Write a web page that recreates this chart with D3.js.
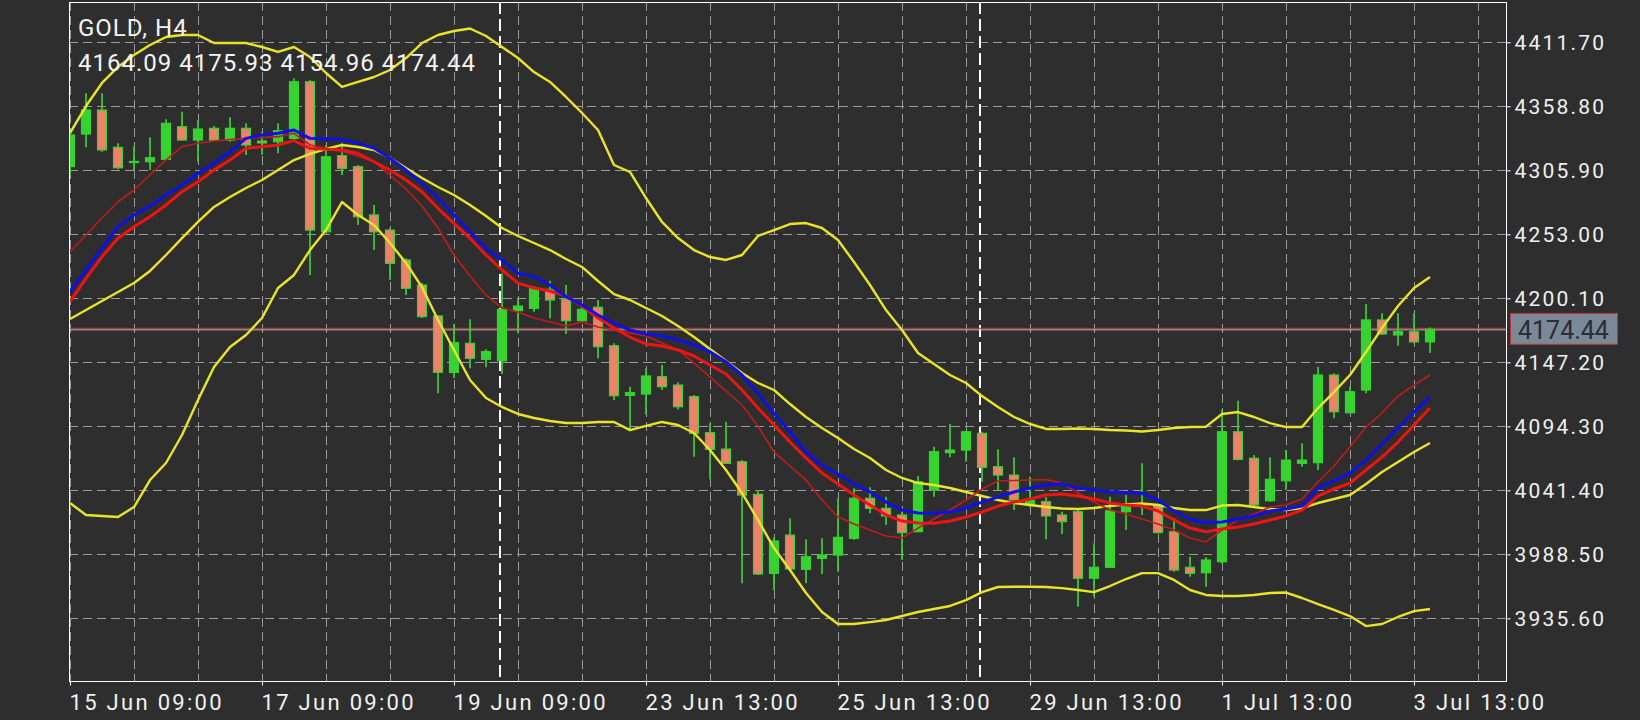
<!DOCTYPE html>
<html>
<head>
<meta charset="utf-8">
<script src="https://cdn.jsdelivr.net/npm/d3@7"></script>
<style>
  body { margin: 0; background: #2e2e2e; }
  svg { display: block; }
  text { font-family: Roboto, sans-serif; }
</style>
</head>
<body>
<div id="chart"></div>
<script>
// GOLD H4 candles, one value per bar, oldest first
const symbol = "GOLD, H4"
const opens = [4308.9, 4335.9, 4355.7, 4324.9, 4312.8, 4313.0, 4315.0, 4341.9, 4330.9, 4340.6,
  4330.9, 4340.6, 4330.1, 4329.5, 4332.3, 4379.1, 4255.1, 4318.0, 4308.9, 4269.0,
  4256.5, 4231.8, 4211.1, 4185.5, 4138.9, 4162.9, 4149.7, 4148.5, 4189.9, 4191.8,
  4207.5, 4199.3, 4181.6, 4192.7, 4160.9, 4119.9, 4121.0, 4135.3, 4128.4, 4118.8,
  4089.0, 4075.5, 4065.0, 4038.1, 3972.8, 4004.4, 3976.1, 3985.2, 3987.9, 4001.7,
  4034.8, 4026.5, 4021.0, 4007.2, 4041.6, 4072.5, 4074.7, 4088.5, 4060.9, 4054.0,
  4029.3, 4032.0, 4021.0, 4023.7, 3968.7, 3977.8, 4023.7, 4029.3, 4028.4, 4007.2,
  3977.8, 3973.3, 3982.4, 4089.8, 4067.9, 4032.8, 4049.3, 4063.7, 4064.2, 4136.7,
  4105.5, 4124.3, 4182.2, 4169.8, 4172.5, 4164.09]
const highs = [4340.9, 4369.5, 4369.5, 4328.2, 4325.4, 4333.2, 4348.1, 4354.3, 4347.5, 4342.8,
  4349.7, 4344.7, 4337.6, 4344.7, 4381.9, 4380.5, 4326.8, 4328.2, 4310.3, 4277.2,
  4258.0, 4233.2, 4213.0, 4186.3, 4178.9, 4182.7, 4157.9, 4220.8, 4199.3, 4210.3,
  4214.6, 4211.1, 4194.6, 4198.7, 4162.9, 4127.0, 4142.2, 4145.0, 4130.7, 4120.2,
  4096.8, 4098.1, 4066.4, 4041.6, 4002.5, 4018.3, 4000.9, 4001.7, 4034.8, 4043.1,
  4043.9, 4036.1, 4023.7, 4053.2, 4077.4, 4096.2, 4090.7, 4089.8, 4075.3, 4068.7,
  4052.6, 4035.6, 4023.7, 4025.1, 3997.6, 4036.1, 4037.5, 4063.7, 4030.6, 4018.3,
  3986.5, 3986.0, 4108.3, 4115.5, 4070.6, 4068.7, 4074.7, 4080.3, 4143.6, 4138.1,
  4127.0, 4195.4, 4187.7, 4187.7, 4187.7, 4175.93]
const lows = [4302.0, 4324.9, 4321.3, 4306.7, 4306.1, 4306.1, 4314.4, 4330.4, 4313.0, 4330.1,
  4329.5, 4318.5, 4318.5, 4320.0, 4330.9, 4219.4, 4254.9, 4302.0, 4260.7, 4240.0,
  4215.2, 4202.8, 4183.8, 4121.6, 4134.0, 4142.2, 4143.1, 4137.5, 4171.2, 4189.0,
  4183.6, 4170.6, 4180.5, 4150.5, 4116.0, 4091.2, 4104.2, 4124.3, 4108.3, 4069.2,
  4050.5, 4063.1, 3964.5, 3971.4, 3959.0, 3975.5, 3964.5, 3972.2, 3974.1, 4000.3,
  4022.4, 4012.7, 3983.8, 4006.9, 4036.1, 4068.7, 4065.0, 4048.5, 4041.1, 4025.1,
  4027.6, 4000.9, 4005.3, 3945.2, 3953.5, 3976.9, 4008.6, 4021.0, 4005.9, 3974.1,
  3970.0, 3961.7, 3981.0, 4066.0, 4028.4, 4032.0, 4041.6, 4060.9, 4058.2, 4100.9,
  4105.0, 4121.6, 4169.8, 4160.9, 4162.9, 4154.96]
const closes = [4335.1, 4355.7, 4322.7, 4308.0, 4313.2, 4316.3, 4344.7, 4330.9, 4340.0, 4330.9,
  4340.6, 4326.8, 4328.5, 4338.6, 4379.1, 4256.5, 4317.1, 4307.5, 4267.5, 4255.1,
  4229.0, 4208.4, 4184.9, 4138.9, 4163.4, 4150.5, 4156.0, 4191.0, 4193.7, 4208.4,
  4198.7, 4181.6, 4191.0, 4160.1, 4119.6, 4122.1, 4135.9, 4127.0, 4110.5, 4088.5,
  4075.3, 4063.7, 4037.5, 3972.2, 3999.5, 3976.4, 3986.5, 3987.9, 4002.5, 4034.8,
  4026.5, 4020.2, 4006.4, 4048.5, 4073.3, 4074.7, 4089.8, 4060.4, 4054.0, 4033.4,
  4032.8, 4020.2, 4015.5, 3968.7, 3977.8, 4024.5, 4029.3, 4030.1, 4006.4, 3975.5,
  3972.8, 3983.8, 4089.8, 4067.0, 4029.3, 4050.5, 4066.4, 4066.4, 4136.7, 4106.4,
  4122.9, 4182.2, 4170.6, 4172.5, 4164.1, 4174.44]

// moving averages
const maBlue = [4205.6, 4223.5, 4241.4, 4259.3, 4269.0, 4276.4, 4285.5, 4293.8, 4303.4, 4311.7,
  4321.3, 4332.3, 4335.1, 4336.5, 4339.2, 4332.3, 4331.8, 4331.5, 4328.2, 4324.1,
  4315.8, 4306.1, 4295.2, 4282.8, 4269.0, 4255.1, 4241.4, 4231.8, 4220.8, 4218.0,
  4211.1, 4201.4, 4194.6, 4186.3, 4179.4, 4173.9, 4170.6, 4168.9, 4165.6, 4161.5,
  4156.0, 4147.7, 4136.7, 4121.6, 4105.0, 4089.8, 4073.1, 4062.3, 4054.9, 4046.6,
  4040.2, 4031.7, 4025.1, 4022.6, 4022.4, 4023.5, 4026.8, 4031.7, 4035.9, 4040.0,
  4043.3, 4045.8, 4046.6, 4043.3, 4041.6, 4040.2, 4039.6, 4038.9, 4033.4, 4024.3,
  4017.7, 4014.6, 4015.2, 4017.7, 4020.2, 4024.3, 4025.9, 4028.4, 4043.3, 4049.1,
  4055.7, 4066.4, 4079.7, 4092.9, 4106.1, 4118.5]
const maRed = [4197.3, 4216.6, 4234.5, 4249.7, 4259.3, 4267.5, 4277.2, 4288.2, 4296.5, 4306.1,
  4314.4, 4324.1, 4325.4, 4326.8, 4330.4, 4324.1, 4323.3, 4322.7, 4320.0, 4313.0,
  4306.1, 4297.9, 4288.2, 4274.5, 4262.1, 4249.7, 4235.9, 4223.5, 4212.7, 4208.6,
  4206.1, 4202.0, 4193.7, 4183.8, 4175.5, 4168.1, 4162.3, 4160.7, 4157.4, 4152.4,
  4145.0, 4137.5, 4124.3, 4109.4, 4095.4, 4081.3, 4068.1, 4055.7, 4046.6, 4037.5,
  4029.3, 4021.0, 4016.0, 4014.4, 4014.1, 4016.0, 4019.3, 4023.5, 4028.4, 4031.7,
  4034.2, 4037.5, 4038.3, 4036.7, 4034.2, 4030.9, 4029.3, 4028.4, 4024.3, 4016.9,
  4010.2, 4007.2, 4009.4, 4011.1, 4013.5, 4016.9, 4020.2, 4025.1, 4036.7, 4042.5,
  4047.4, 4058.2, 4068.9, 4081.3, 4095.4, 4109.4]
const maFast = [4238.6, 4252.4, 4266.5, 4279.9, 4289.6, 4302.0, 4314.4, 4325.4, 4328.2, 4330.1,
  4331.4, 4332.3, 4333.0, 4333.7, 4336.5, 4326.8, 4324.1, 4321.4, 4317.7, 4313.0,
  4302.0, 4290.4, 4276.4, 4258.2, 4235.9, 4218.5, 4202.8, 4192.1, 4188.8, 4183.8,
  4180.5, 4177.2, 4180.5, 4176.4, 4173.9, 4171.4, 4168.9, 4163.2, 4157.4, 4146.6,
  4135.1, 4123.5, 4111.9, 4094.6, 4073.1, 4061.5, 4049.9, 4033.4, 4019.3, 4013.5,
  4008.6, 4003.6, 4002.0, 4010.2, 4017.7, 4025.1, 4033.4, 4042.5, 4049.1, 4049.5,
  4049.9, 4050.3, 4047.4, 4039.2, 4031.7, 4025.1, 4021.8, 4017.7, 4013.5, 4008.6,
  4002.0, 3998.7, 4008.6, 4016.9, 4021.8, 4027.6, 4029.3, 4034.2, 4048.3, 4061.5,
  4077.2, 4093.7, 4105.3, 4119.3, 4128.4, 4136.7]

// bollinger bands
const bbMid = [4183.0, 4190.4, 4197.9, 4205.3, 4212.7, 4222.7, 4235.9, 4249.9, 4263.2, 4275.6,
  4283.8, 4291.3, 4297.9, 4306.1, 4314.4, 4319.4, 4323.5, 4326.8, 4325.2, 4322.7,
  4316.1, 4307.8, 4299.5, 4292.1, 4285.5, 4277.2, 4268.1, 4258.2, 4251.6, 4245.8,
  4240.0, 4232.6, 4226.0, 4214.4, 4203.6, 4198.7, 4192.1, 4185.5, 4177.2, 4168.1,
  4158.2, 4148.3, 4138.4, 4130.1, 4124.3, 4112.7, 4102.0, 4092.9, 4084.6, 4075.5,
  4068.1, 4058.2, 4051.6, 4047.4, 4045.8, 4043.3, 4040.0, 4036.7, 4033.4, 4030.9,
  4029.3, 4027.6, 4026.4, 4025.9, 4026.8, 4028.4, 4029.7, 4030.5, 4029.3, 4026.8,
  4025.1, 4025.1, 4028.8, 4029.3, 4027.6, 4025.9, 4025.1, 4026.8, 4030.9, 4034.2,
  4037.5, 4046.6, 4056.5, 4064.8, 4073.1, 4080.5]
const bbUpper = [4336.7, 4359.0, 4378.1, 4391.3, 4401.2, 4409.5, 4416.1, 4417.7, 4417.7, 4411.1,
  4411.1, 4411.1, 4407.8, 4403.7, 4407.8, 4399.5, 4386.3, 4374.8, 4378.9, 4383.0,
  4388.8, 4398.7, 4411.1, 4417.7, 4421.0, 4423.1, 4416.9, 4407.8, 4398.7, 4387.1,
  4378.9, 4366.5, 4353.3, 4339.2, 4310.3, 4304.5, 4283.0, 4263.2, 4249.9, 4240.0,
  4234.2, 4231.8, 4235.9, 4251.6, 4256.5, 4261.5, 4262.3, 4258.2, 4248.3, 4230.1,
  4211.1, 4190.4, 4173.9, 4154.9, 4145.8, 4136.7, 4130.1, 4119.3, 4110.3, 4102.0,
  4096.2, 4092.1, 4092.1, 4092.5, 4092.1, 4091.2, 4090.8, 4090.0, 4091.2, 4092.9,
  4093.7, 4094.0, 4104.5, 4106.1, 4102.0, 4097.0, 4093.7, 4093.7, 4109.4, 4122.6,
  4136.7, 4155.7, 4175.5, 4193.7, 4208.6, 4217.7]
const bbLower = [4030.9, 4021.0, 4020.2, 4019.3, 4027.6, 4049.9, 4064.0, 4087.1, 4116.0, 4143.3,
  4159.8, 4169.8, 4183.8, 4208.6, 4219.4, 4240.0, 4256.5, 4279.7, 4269.0, 4260.7,
  4245.8, 4229.3, 4209.4, 4182.2, 4157.4, 4132.6, 4117.7, 4110.3, 4104.5, 4101.2,
  4098.7, 4097.0, 4097.0, 4097.9, 4097.9, 4091.2, 4094.6, 4097.9, 4095.4, 4088.8,
  4074.7, 4058.2, 4039.2, 4016.9, 3993.7, 3975.5, 3956.5, 3940.8, 3930.9, 3930.9,
  3932.5, 3934.2, 3937.5, 3940.8, 3943.3, 3945.8, 3950.7, 3957.3, 3961.5, 3961.7,
  3961.7, 3961.5, 3960.6, 3959.0, 3957.3, 3962.3, 3968.1, 3973.0, 3973.0, 3967.3,
  3959.0, 3954.9, 3954.0, 3954.0, 3954.9, 3956.5, 3956.9, 3952.4, 3947.4, 3942.5,
  3937.5, 3929.2, 3930.9, 3936.7, 3941.6, 3943.3]

// axes
const priceTicks = [4411.70, 4358.80, 4305.90, 4253.00, 4200.10, 4147.20, 4094.30, 4041.40, 3988.50, 3935.60]
const labelBars = [0, 12, 24, 36, 48, 60, 72, 84]
const labelTexts = ["15 Jun 09:00", "17 Jun 09:00", "19 Jun 09:00", "23 Jun 13:00",
  "25 Jun 13:00", "29 Jun 13:00", "1 Jul 13:00", "3 Jul 13:00"]
const separatorBars = [27, 57]
const lastPrice = 4174.44

const width = 1640, height = 720
const frame = { left: 69, top: 2, right: 1506, bottom: 681 }

const svg = d3.select("#chart")
  .append("svg")
  .attr("width", width)
  .attr("height", height)

svg.append("rect").attr("width", width).attr("height", height).attr("fill", "#2e2e2e")

// bar index -> pixel, a few empty bars kept on the right like the terminal does
const x = d3.scaleLinear().domain([-0.0625, 89.75]).range([frame.left, frame.right])
const y = d3.scaleLinear().domain([3883.8, 4445.0]).range([frame.bottom, frame.top])

svg.append("clipPath").attr("id", "plot")
  .append("rect")
  .attr("x", frame.left).attr("y", frame.top)
  .attr("width", frame.right - frame.left).attr("height", frame.bottom - frame.top)

const plot = svg.append("g").attr("clip-path", "url(#plot)")

// grid
plot.append("g")
  .selectAll("line")
  .data(priceTicks)
  .join("line")
  .attr("x1", frame.left).attr("x2", frame.right)
  .attr("y1", d => Math.round(y(d)) + 0.5).attr("y2", d => Math.round(y(d)) + 0.5)
  .attr("stroke", "#9a9a9a").attr("stroke-dasharray", "9,5")

plot.append("g")
  .selectAll("line")
  .data(d3.range(0, 89, 4))
  .join("line")
  .attr("x1", d => Math.round(x(d)) + 0.5).attr("x2", d => Math.round(x(d)) + 0.5)
  .attr("y1", frame.top).attr("y2", frame.bottom)
  .attr("stroke", "#9a9a9a").attr("stroke-dasharray", "9,5")

// period separators
plot.append("g")
  .selectAll("line")
  .data(separatorBars)
  .join("line")
  .attr("x1", d => x(d - 0.125)).attr("x2", d => x(d - 0.125))
  .attr("y1", frame.top).attr("y2", frame.bottom)
  .attr("stroke", "#ffffff").attr("stroke-width", 2).attr("stroke-dasharray", "12,5")

// bid line
plot.append("line")
  .attr("x1", frame.left).attr("x2", frame.right)
  .attr("y1", y(lastPrice) - 1).attr("y2", y(lastPrice) - 1)
  .attr("stroke", "#c03a44")
plot.append("line")
  .attr("x1", frame.left).attr("x2", frame.right)
  .attr("y1", y(lastPrice) + 0.5).attr("y2", y(lastPrice) + 0.5)
  .attr("stroke", "#b9b4b8")

// candles
const bars = d3.range(opens.length)
const candles = plot.append("g")
  .selectAll("g")
  .data(bars)
  .join("g")

candles.append("line")
  .attr("x1", i => x(i)).attr("x2", i => x(i))
  .attr("y1", i => y(highs[i])).attr("y2", i => y(lows[i]))
  .attr("stroke", "#38d230").attr("stroke-width", 1.7)

candles.append("rect")
  .attr("x", i => x(i) - 4.5)
  .attr("width", 9)
  .attr("y", i => y(Math.max(opens[i], closes[i])))
  .attr("height", i => Math.max(1, Math.abs(y(opens[i]) - y(closes[i]))))
  .attr("fill", i => closes[i] >= opens[i] ? "#38d230" : "#f0806c")
  .attr("stroke", "#38d230").attr("stroke-width", 1.2)

// indicator lines
function drawLine(values, color, w) {
  plot.append("path")
    .datum(values)
    .attr("fill", "none")
    .attr("stroke", color)
    .attr("stroke-width", w)
    .attr("stroke-linejoin", "round")
    .attr("d", d3.line().x((d, i) => x(i)).y(d => y(d)))
}
drawLine(bbUpper, "#e8e42a", 2.4)
drawLine(bbLower, "#e8e42a", 2.4)
drawLine(bbMid, "#e8e42a", 2.4)
drawLine(maFast, "#c01c1c", 1.6)
drawLine(maRed, "#ee1414", 3)
drawLine(maBlue, "#1010e6", 3)

// frame
svg.append("rect")
  .attr("x", frame.left + 0.5).attr("y", frame.top + 0.5)
  .attr("width", frame.right - frame.left).attr("height", frame.bottom - frame.top)
  .attr("fill", "none").attr("stroke", "#ffffff")

// price axis
const yAxis = svg.append("g")
  .attr("transform", `translate(${frame.right + 0.5},0)`)
  .call(d3.axisRight(y).tickValues(priceTicks).tickSize(4).tickPadding(4).tickFormat(d3.format(".2f")))
yAxis.select(".domain").remove()
yAxis.selectAll("line").attr("stroke", "#ffffff")
yAxis.selectAll("text")
  .attr("fill", "#f0f0f0")
  .style("font-size", "21px")
  .style("letter-spacing", "2.2px")

// time axis
const xAxis = svg.append("g")
  .attr("transform", `translate(0,${frame.bottom + 0.5})`)
  .call(d3.axisBottom(x).tickValues(labelBars).tickSize(4).tickPadding(9).tickFormat((d, i) => labelTexts[i]))
xAxis.select(".domain").remove()
xAxis.selectAll("line").attr("stroke", "#ffffff")
xAxis.selectAll("text")
  .attr("fill", "#f0f0f0")
  .attr("text-anchor", "start")
  .attr("x", -1)
  .style("font-size", "22px")
  .style("letter-spacing", "2.3px")

// current price tag
svg.append("rect")
  .attr("x", frame.right + 4.5).attr("y", y(lastPrice) - 16)
  .attr("width", 107).attr("height", 31)
  .attr("fill", "#7a8898").attr("stroke", "#b8323c")
svg.append("text")
  .attr("x", frame.right + 12).attr("y", y(lastPrice) + 10)
  .attr("fill", "#2a2c36")
  .style("font-size", "25px")
  .text(d3.format(".2f")(lastPrice))

// header
svg.append("text")
  .attr("x", 78).attr("y", 36)
  .attr("fill", "#f4f4f4")
  .style("font-size", "24px").style("letter-spacing", "1px")
  .text(symbol)
svg.append("text")
  .attr("x", 78).attr("y", 71)
  .attr("fill", "#f4f4f4")
  .style("font-size", "24px").style("letter-spacing", "1px")
  .text([opens, highs, lows, closes].map(a => d3.format(".2f")(a[a.length - 1])).join(" "))
</script>
</body>
</html>
